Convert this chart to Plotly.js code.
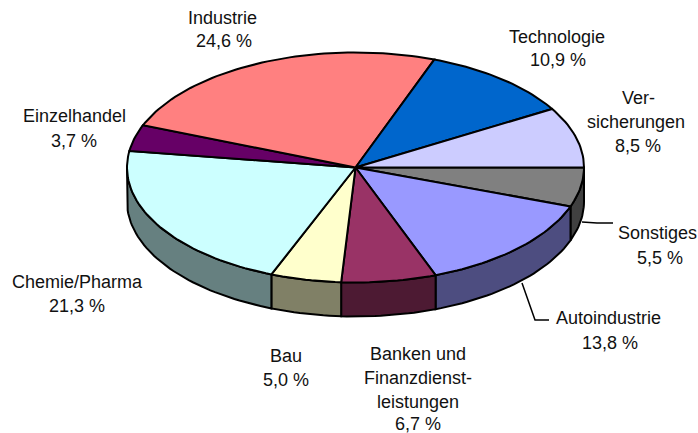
<!DOCTYPE html>
<html>
<head>
<meta charset="utf-8">
<script src="https://cdn.plot.ly/plotly-3.0.1.min.js"></script>
<style>html,body{margin:0;padding:0;background:#fff}#c{width:698px;height:433px}</style>
</head>
<body>
<div id="c"></div>
<script>
// Data, clockwise from the 3 o'clock position
const categories = ["Sonstiges","Autoindustrie","Banken und Finanzdienstleistungen","Bau","Chemie/Pharma","Einzelhandel","Industrie","Technologie","Versicherungen"];
const shares = [5.5,13.8,6.7,5.0,21.3,3.7,24.6,10.9,8.5];
const topColors = ["#808080","#9999FF","#993366","#FFFFCC","#CCFFFF","#660066","#FF8080","#0066CC","#CCCCFF"];
const wallColors = ["#404040","#4D4D80","#4D1A33","#808066","#668080","#330033","#804040","#003366","#666680"];

// Label lines: [text, x centre, y centre]
const labelLines = [
  ["Industrie",222,18],["24,6 %",224,41],
  ["Technologie",557,37],["10,9 %",558,60],
  ["Ver-",638,98],["sicherungen",636,122],["8,5 %",638,146],
  ["Einzelhandel",74,116],["3,7 %",74,141],
  ["Sonstiges",657,233],["5,5 %",660,258],
  ["Autoindustrie",608,318],["13,8 %",610,343],
  ["Chemie/Pharma",77,282],["21,3 %",77,306],
  ["Bau",286,356],["5,0 %",286,380],
  ["Banken und",418,354],["Finanzdienst-",418,378],["leistungen",418,402],["6,7 %",418,424]
];
const leaders = [
  {x:[582,597,613],y:[222,223,223]},
  {x:[522,535,549],y:[283,320,320]}
];

// Tilted pie geometry
const cx=355.5, cy=167.5, rx=228.5, ry=115, depth=34;
const pt=(deg,dy=0)=>[cx+rx*Math.cos(deg*Math.PI/180), cy+ry*Math.sin(deg*Math.PI/180)+dy];
function arc(a,b,dy=0){
  const n=Math.max(2,Math.ceil(Math.abs(b-a)/1.5)), out=[];
  for(let i=0;i<=n;i++) out.push(pt(a+(b-a)*i/n,dy));
  return out;
}
const total=shares.reduce((s,v)=>s+v,0);
let acc=0;
const spans=shares.map(v=>{const a=acc/total*360; acc+=v; return [a,acc/total*360];});

const poly=(pts,color,lw=2)=>({
  type:"scatter",mode:"lines",x:pts.map(p=>p[0]),y:pts.map(p=>p[1]),
  fill:"toself",fillcolor:color,line:{color:"#000",width:lw,shape:"linear"},
  hoverinfo:"skip",showlegend:false
});

const traces=[];
// Side walls: only the front half of the rim is visible
spans.forEach(([a,b],i)=>{
  const s=Math.max(a,0), e=Math.min(b,180);
  if(e>s) traces.push(poly([...arc(s,e),...arc(e,s,depth),pt(s)],wallColors[i]));
});
// Top faces
spans.forEach(([a,b],i)=>{
  traces.push(poly([[cx,cy],...arc(a,b),[cx,cy]],topColors[i]));
});
// Leader lines
leaders.forEach(l=>traces.push({type:"scatter",mode:"lines",x:l.x,y:l.y,line:{color:"#000",width:1.5},hoverinfo:"skip",showlegend:false}));

const annotations=labelLines.map(([t,x,y])=>({
  text:t,x,y,xref:"x",yref:"y",showarrow:false,xanchor:"center",yanchor:"middle",
  font:{family:"Liberation Sans, Arial, sans-serif",size:18,color:"#111"}
}));

const hidden={visible:false,fixedrange:true};
Plotly.newPlot("c",traces,{
  width:698,height:433,margin:{l:0,r:0,t:0,b:0},
  paper_bgcolor:"#fff",plot_bgcolor:"#fff",showlegend:false,
  xaxis:{...hidden,range:[0,698]},
  yaxis:{...hidden,range:[433,0]},
  annotations
},{displayModeBar:false,staticPlot:true});
</script>
</body>
</html>
